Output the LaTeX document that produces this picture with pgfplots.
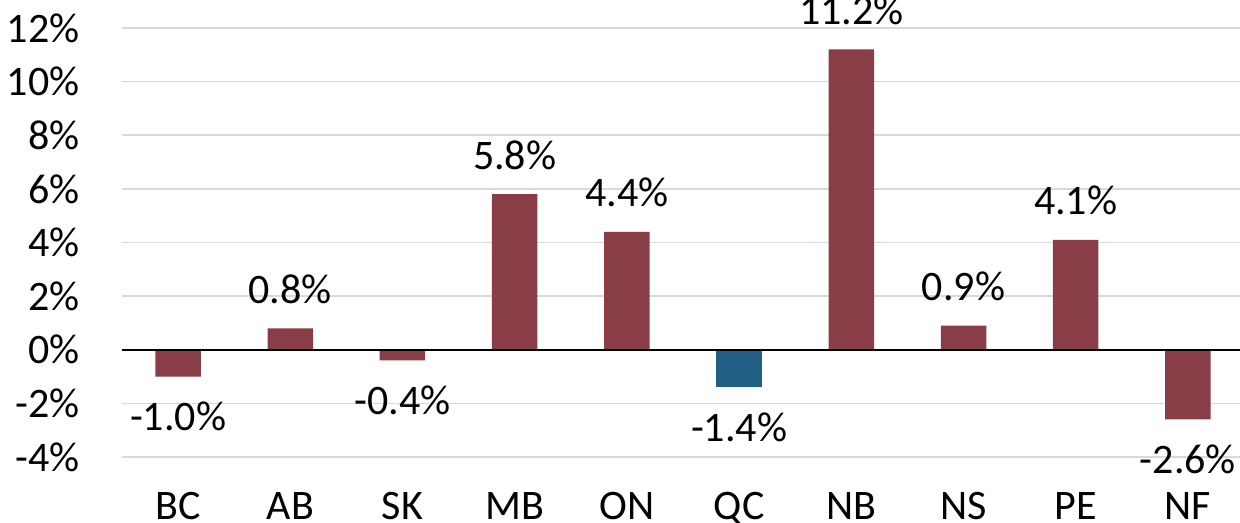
\documentclass[border=0pt]{standalone}
\usepackage{fontspec}
\setmainfont{Carlito}
\usepackage{pgfplots}
\pgfplotsset{compat=1.18}
\definecolor{barred}{HTML}{893E47}
\definecolor{barblue}{HTML}{215F85}
\definecolor{gridgray}{HTML}{D9D9D9}
\begin{document}
\fontsize{21}{25}\selectfont
\begin{tikzpicture}
\begin{axis}[
  name=ax,
  scale only axis,
  width=561pt, height=214.5pt,
  xmin=-0.5, xmax=9.5,
  ymin=-4, ymax=12,
  axis line style={draw=none},
  ybar, bar width=22.75pt, bar shift=0pt,
  xtick={0,...,9},
  xticklabels={BC,AB,SK,MB,ON,QC,NB,NS,PE,NF},
  ytick={-4,-2,...,12},
  yticklabel={\pgfmathprintnumber{\tick}\%},
  /pgf/number format/assume math mode=true,
  major tick length=0pt,
  ymajorgrids,
  grid style={draw=gridgray, line width=0.75pt},
  xticklabel style={anchor=base, inner sep=0pt, yshift=-31.5pt, font=\fontsize{21}{25}\selectfont},
  yticklabel style={anchor=east, inner sep=0pt, xshift=-21pt, font=\fontsize{21}{25}\selectfont},
  clip=false,
  every node near coord/.append style={font=\fontsize{21}{25}\selectfont, inner sep=0pt, anchor=base},
  nodes near coords={\pgfmathprintnumber[fixed, fixed zerofill, precision=1]{\pgfplotspointmeta}\%},
]
% positive red
\addplot[fill=barred, draw=none, nodes near coords style={yshift=12.5pt}] coordinates {(1,0.8) (3,5.8) (4,4.4) (6,11.2) (7,0.9) (8,4.1)};
% negative red
\addplot[fill=barred, draw=none, nodes near coords style={yshift=-27pt}] coordinates {(0,-1.0) (2,-0.4) (9,-2.6)};
% negative blue
\addplot[fill=barblue, draw=none, nodes near coords style={yshift=-27pt}] coordinates {(5,-1.4)};
\draw[black, line width=1pt] (axis cs:-0.5,0) -- (axis cs:9.5,0);
\end{axis}
\pgfresetboundingbox
\path[use as bounding box] ([shift={(-61pt,-33pt)}]ax.south west) rectangle ([shift={(-2pt,14pt)}]ax.north east);
\end{tikzpicture}
\end{document}
